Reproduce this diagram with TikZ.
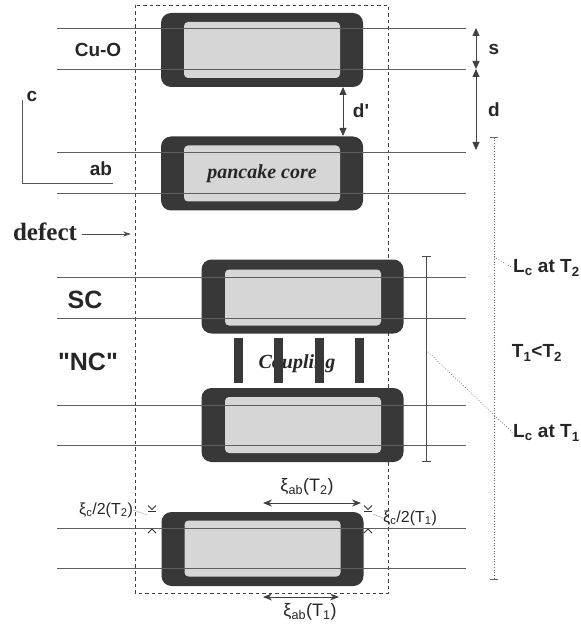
\documentclass[tikz,border=0pt]{standalone}
\usepackage{fontspec}
\setmainfont{Liberation Serif}
\newfontfamily\lsans{Liberation Sans}
\usetikzlibrary{arrows.meta}
\definecolor{frame}{RGB}{56,56,56}
\definecolor{core}{RGB}{214,214,214}
\definecolor{layer}{RGB}{95,95,95}
\begin{document}
\begin{tikzpicture}[x=1pt,y=-1pt,
  outerbox/.style={fill=frame, rounded corners=10pt, minimum width=202pt, minimum height=74pt, inner sep=0pt},
  innerbox/.style={fill=core, rounded corners=4pt, minimum width=156pt, minimum height=56pt, inner sep=0pt},
  barbox/.style={fill=frame, minimum width=9pt, minimum height=45pt, inner sep=0pt},
  layerline/.style={draw=layer, line width=0.7pt},
  lab/.style={font=\lsans\bfseries\fontsize{19}{22}\selectfont, text=black!85, inner sep=0pt},
  biglab/.style={font=\lsans\bfseries\fontsize{25}{28}\selectfont, text=black!85, inner sep=0pt},
  serlab/.style={font=\bfseries\fontsize{25}{28}\selectfont, text=black!85, inner sep=0pt},
  itlab/.style={font=\bfseries\itshape\fontsize{20}{24}\selectfont, text=black!85, inner sep=0pt},
  xilab/.style={font=\lsans\fontsize{18}{21}\selectfont, text=black!85, inner sep=0pt},
  smxilab/.style={font=\lsans\fontsize{16}{19}\selectfont, text=black!85, inner sep=0pt},
  dimarrow/.style={draw=black!75, line width=0.8pt, {Triangle[length=8pt,width=7pt]}-{Triangle[length=8pt,width=7pt]}},
  xiarrow/.style={draw=black!75, line width=0.8pt, {Stealth[length=9pt,width=7pt]}-{Stealth[length=9pt,width=7pt]}},
  ruler/.style={draw=black!70, line width=0.7pt, {Bar[width=9pt]}-{Bar[width=9pt]}},
  dotline/.style={draw=black!60, line width=0.7pt, dotted},
  ximark/.style={draw=black!80, line width=0.8pt},
  faint/.style={draw=black!35, line width=0.4pt}
]
\useasboundingbox (0,0) rectangle (580,628);

% defect column (dashed)
\draw[draw=black!75, line width=0.8pt, dash pattern=on 3.5pt off 3pt] (135,5) rectangle (388,593);

% pancake boxes
\node[outerbox] (o1) at (262,50) {};
\node[innerbox] (i1) at (262,50) {};
\node[outerbox] (o2) at (262,173.5) {};
\node[innerbox] (i2) at (262,173.5) {};
\node[outerbox] (o3) at (302.5,296.5) {};
\node[innerbox] (i3) at (303,297.5) {};
\node[outerbox] (o4) at (302.5,425) {};
\node[innerbox] (i4) at (303,425) {};
\node[outerbox] (o5) at (262.5,549) {};
\node[innerbox] (i5) at (262.5,548.5) {};

% Cu-O layer lines
\foreach \n/\y in {a/28,b/69,c/152,d/193,e/277,f/318,g/405,h/445,i/528,j/568}{
  \coordinate (l\n) at (57,\y);
  \coordinate (r\n) at (466,\y);
  \draw[layerline] (l\n) -- (r\n);
}

% texts in cores
\node[itlab] (pc) at (262,174) {pancake core};
\node[itlab] (cp) at (297,364) {Coupling};

% coupling bars
\foreach \k/\x in {1/238,2/278,3/319,4/359}{
  \node[barbox] (bar\k) at (\x,360.5) {};
}

% left labels
\node[lab] (cuo) at (98,50) {Cu-O};
\node[lab] (cax) at (32,96) {c};
\node[lab] (abx) at (101,169) {ab};
\coordinate (axtop) at (22,100);
\coordinate (axend) at (113,183);
\draw[draw=black!65, line width=0.7pt] (axtop) |- (axend);

\node[serlab] (defect) at (45,232) {defect};
\coordinate (defstart) at (82,234);
\coordinate (defhit) at (131,234);
\draw[draw=black!70, line width=0.7pt, -{Stealth[length=8pt,width=5pt]}] (defstart) -- (defhit);

\node[biglab] (sc) at (85,300) {SC};
\node[biglab] (nc) at (88,362) {"NC"};

% s, d, d'
\coordinate (sa) at (476,28);
\coordinate (sb) at (476,69);
\coordinate (sc2) at (476,150);
\draw[dimarrow] (sa) -- (sb);
\draw[dimarrow] (sb) -- (sc2);
\node[lab] (slab) at (494,49) {s};
\node[lab] (dlab) at (494,110) {d};
\coordinate (dpa) at (343,87);
\coordinate (dpb) at (343,136);
\draw[dimarrow] (dpa) -- (dpb);
\node[lab] (dplab) at (361,111) {d'};

% L_c rulers
\coordinate (ru1) at (426,256);
\coordinate (ru2) at (426,462);
\draw[ruler] (ru1) -- (ru2);
\coordinate (dv1) at (494,137);
\coordinate (dv2) at (494,580);
\draw[dotline, {Bar[width=8pt]}-{Bar[width=8pt]}] (dv1) -- (dv2);

\node[lab, anchor=west] (lc2) at (513,268) {L\textsubscript{c} at T\textsubscript{2}};
\node[lab, anchor=west] (lc1) at (513,433) {L\textsubscript{c} at T\textsubscript{1}};
\node[lab] (tt) at (537,353) {T\textsubscript{1}<T\textsubscript{2}};
\coordinate (p1) at (426,350);
\coordinate (p2) at (494,257);
\draw[dotline] (p1) -- (lc1.west);
\draw[dotline] (p2) -- (lc2.west);

% xi_ab arrows
\coordinate (x2a) at (263,503);
\coordinate (x2b) at (361,503);
\draw[xiarrow] (x2a) -- (x2b);
\node[xilab] (xiab2) at (307,487) {ξ\textsubscript{ab}(T\textsubscript{2})};
\coordinate (x1a) at (263,597);
\coordinate (x1b) at (339,597);
\draw[xiarrow] (x1a) -- (x1b);
\node[xilab] (xiab1) at (310,612) {ξ\textsubscript{ab}(T\textsubscript{1})};

% xi_c marks
\foreach \x in {152,368}{
  \draw[ximark] (\x-4,505.5) -- (\x,509.5) -- (\x+4,505.5);
  \draw[ximark] (\x-4,511) -- (\x+4,511);
  \draw[ximark] (\x-4,533) -- (\x,529) -- (\x+4,533);
}
\node[smxilab] (xic2) at (106,510) {ξ\textsubscript{c}/2(T\textsubscript{2})};
\node[smxilab, anchor=west] (xic1) at (383,518) {ξ\textsubscript{c}/2(T\textsubscript{1})};
\coordinate (m2) at (147,515);
\coordinate (m1) at (373,514);
\draw[faint] (xic2.east) -- (m2);
\draw[faint] (xic1.west) -- (m1);

\end{tikzpicture}
\end{document}
